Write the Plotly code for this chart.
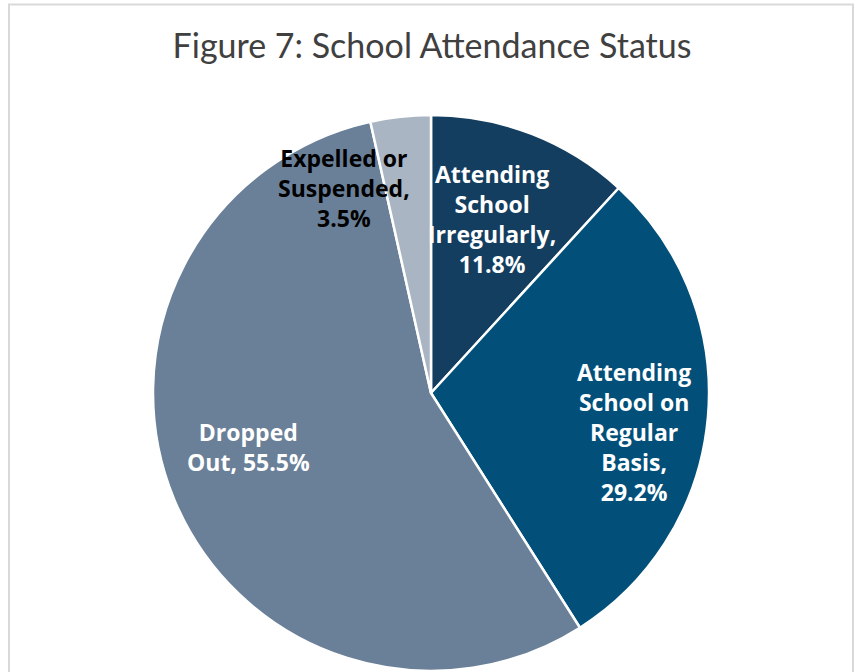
import math
import plotly.graph_objects as go

categories = ["Attending School Irregularly", "Attending School on Regular Basis",
              "Dropped Out", "Expelled or Suspended"]
label_text = ["Attending<br>School<br>Irregularly,<br>", "Attending<br>School on<br>Regular<br>Basis,<br>",
              "Dropped<br>Out, ", "Expelled or<br>Suspended,<br>"]
values = [11.8, 29.2, 55.5, 3.5]

colors = ["#143E5F", "#02507A", "#6A8099", "#AAB5C3"]
label_colors = ["white", "white", "white", "black"]
# style: label placement (fraction of radius, angle offset in degrees)
label_r = [0.663, 0.744, 0.686, 0.80]
label_da = [-1.9, 5.9, 6.1, -16.7]

W, H = 857, 672
ml, mr, mt, mb = 5, 0, 115, 1
pw, ph = W - ml - mr, H - mt - mb
R = min(pw, ph) / 2

fig = go.Figure(go.Pie(
    labels=categories, values=values, sort=False, direction="clockwise", rotation=0,
    marker=dict(colors=colors, line=dict(color="white", width=2.5)),
    textinfo="none", hoverinfo="skip", domain=dict(x=[0, 1], y=[0, 1])
))

total = sum(values)
cum = 0
annotations = []
for i, v in enumerate(values):
    mid = (cum + v / 2) / total * 360 + label_da[i]
    cum += v
    a = math.radians(mid)
    x = 0.5 + label_r[i] * R * math.sin(a) / pw
    y = 0.5 + label_r[i] * R * math.cos(a) / ph
    annotations.append(dict(
        x=x, y=y, xref="paper", yref="paper", showarrow=False,
        text=f"{label_text[i]}{v:.1f}%", align="center",
        font=dict(family="Open Sans", size=23, color=label_colors[i], weight="bold"),
        xanchor="center", yanchor="middle"
    ))

fig.update_layout(
    width=W, height=H, margin=dict(l=ml, r=mr, t=mt, b=mb),
    paper_bgcolor="white", plot_bgcolor="white", showlegend=False,
    title=dict(text="Figure 7: School Attendance Status", x=432 / W, xanchor="center",
               y=1 - 46 / H, yanchor="middle",
               font=dict(family="Lato", size=34, color="#404040")),
    annotations=annotations,
    shapes=[dict(type="rect", xref="paper", yref="paper",
                 x0=(9 - ml) / pw, x1=(853 - ml) / pw,
                 y0=-0.05, y1=1 + (mt - 4.5) / ph,
                 line=dict(color="#D9D9D9", width=2), fillcolor="rgba(0,0,0,0)", layer="below")]
)

fig.write_html("out.html", config={"displayModeBar": False, "staticPlot": True},
               post_script="document.body.style.margin='0';document.body.style.overflow='hidden';")
